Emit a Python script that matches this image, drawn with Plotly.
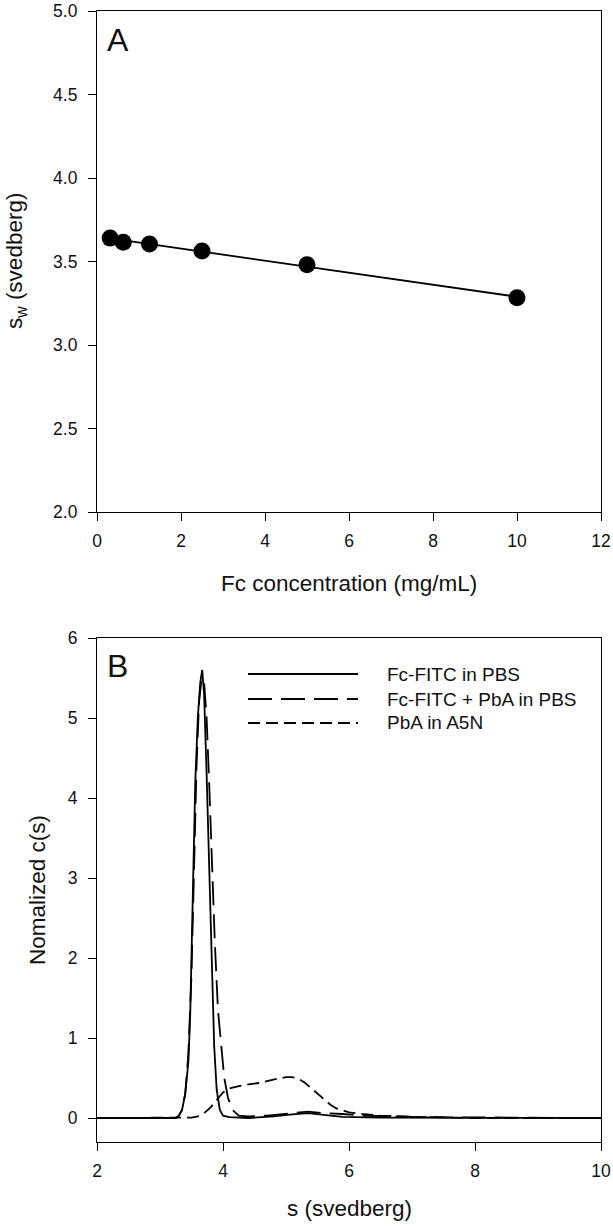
import numpy as np
import plotly.graph_objects as go

# ---- Panel A data ----
conc = [0.3125, 0.625, 1.25, 2.5, 5.0, 10.0]
sw = [3.64, 3.615, 3.605, 3.563, 3.48, 3.283]

# ---- Panel B data ----
s1 = [2.0, 3.25, 3.3, 3.35, 3.4, 3.45, 3.48, 3.52, 3.56, 3.6, 3.64, 3.67, 3.7, 3.74, 3.78, 3.82,
      3.86, 3.9, 3.95, 4.0, 4.1, 4.4, 4.8, 5.1, 5.35, 5.6, 5.9, 6.5, 10.0]
c1 = [0, 0, 0.03, 0.1, 0.3, 0.7, 1.3, 3.0, 4.2, 5.0, 5.45, 5.6, 5.3, 4.3, 3.2, 2.0,
      0.9, 0.35, 0.1, 0.03, 0.01, 0.0, 0.02, 0.045, 0.06, 0.04, 0.015, 0.005, 0]

s2 = [2.0, 3.25, 3.3, 3.35, 3.4, 3.45, 3.5, 3.54, 3.58, 3.62, 3.66, 3.7, 3.74, 3.78, 3.82, 3.87,
      3.92, 3.97, 4.02, 4.08, 4.15, 4.25, 4.4, 4.7, 5.0, 5.35, 5.6, 5.9, 6.2, 6.6, 7.2, 10.0]
c2 = [0, 0, 0.03, 0.1, 0.3, 0.8, 1.8, 3.2, 4.4, 5.2, 5.5, 5.45, 5.0, 4.2, 3.2, 2.2,
      1.35, 0.9, 0.5, 0.25, 0.1, 0.03, 0.02, 0.03, 0.05, 0.08, 0.06, 0.05, 0.03, 0.02, 0.01, 0]

s3 = [2.0, 3.4, 3.5, 3.6, 3.7, 3.8, 3.9, 4.0, 4.1, 4.2, 4.4, 4.6, 4.8, 5.0, 5.1, 5.2, 5.3, 5.4,
      5.5, 5.6, 5.7, 5.8, 5.9, 6.0, 6.2, 6.5, 7.0, 7.5, 8.0, 10.0]
c3 = [0, 0, 0.005, 0.02, 0.06, 0.13, 0.23, 0.32, 0.37, 0.39, 0.42, 0.44, 0.48, 0.51, 0.51, 0.49, 0.44, 0.37,
      0.3, 0.23, 0.17, 0.12, 0.09, 0.07, 0.05, 0.03, 0.015, 0.005, 0, 0]

legend_names = ["Fc-FITC in PBS", "Fc-FITC + PbA in PBS", "PbA in A5N"]
dashes = ["solid", "24px,9px", "12px,6px"]

FONT = "Liberation Sans, Arial, sans-serif"
W, H = 613, 1226
TICK = 17.5
TITLE = 22.5

def px_x(p):
    return p / W

def px_y(p):
    return 1 - p / H

fig = go.Figure()

# regression line through the panel A points
slope, intercept = np.polyfit(conc, sw, 1)
xfit = [min(conc), max(conc)]
fig.add_trace(go.Scatter(x=xfit, y=[slope * v + intercept for v in xfit], mode="lines",
                         line=dict(color="black", width=1.8), xaxis="x", yaxis="y", showlegend=False))
fig.add_trace(go.Scatter(x=conc, y=sw, mode="markers", marker=dict(color="black", size=17),
                         xaxis="x", yaxis="y", showlegend=False))

for s, c, d in zip([s1, s2, s3], [c1, c2, c3], dashes):
    fig.add_trace(go.Scatter(x=s, y=c, mode="lines", line=dict(color="black", width=1.8, dash=d),
                             xaxis="x2", yaxis="y2", showlegend=False))

xdom = [px_x(97), px_x(601)]
topdom = [px_y(512), px_y(11)]
botdom = [px_y(1142), px_y(638)]
axis_common = dict(showline=True, linecolor="black", linewidth=1.2, mirror=True, ticks="outside",
                   ticklen=8, tickwidth=1.2, tickcolor="black", showgrid=False, zeroline=False,
                   ticklabeloverflow="allow",
                   tickfont=dict(family=FONT, size=TICK, color="#111"), automargin=False)

fig.update_layout(
    width=W, height=H, margin=dict(l=0, r=0, t=0, b=0),
    paper_bgcolor="white", plot_bgcolor="white",
    font=dict(family=FONT, color="black"),
    xaxis=dict(domain=xdom, range=[0, 12], dtick=2, tick0=0, anchor="y", ticklabelstandoff=5, **axis_common),
    yaxis=dict(domain=topdom, range=[2, 5], dtick=0.5, tick0=2, tickformat=".1f", anchor="x",
               ticklabelstandoff=7, **axis_common),
    xaxis2=dict(domain=xdom, range=[2, 10], dtick=2, tick0=2, anchor="y2", ticklabelstandoff=5, **axis_common),
    yaxis2=dict(domain=botdom, range=[-0.3, 6], dtick=1, tick0=0, anchor="x2",
                ticklabelstandoff=7, **axis_common),
)

def label(text, x, y, size, angle=0, xanchor="center"):
    fig.add_annotation(text=text, x=px_x(x), y=px_y(y), xref="paper", yref="paper", showarrow=False,
                       xanchor=xanchor, yanchor="middle", textangle=angle,
                       font=dict(family=FONT, size=size, color="#111"))

# axis titles
label("Fc concentration (mg/mL)", 349, 583, TITLE)
label("s<sub>w</sub> (svedberg)", 16, 261, TITLE, angle=-90)
label("s (svedberg)", 349, 1208, TITLE)
label("Nomalized c(s)", 37, 890, TITLE, angle=-90)

# panel letters
label("A", 105, 40, 32, xanchor="left")
label("B", 105, 666, 32, xanchor="left")

# legend (panel B)
rows = [674, 699, 723]
for name, d, ry in zip(legend_names, dashes, rows):
    fig.add_shape(type="line", xref="paper", yref="paper", x0=px_x(248), x1=px_x(358),
                  y0=px_y(ry), y1=px_y(ry), line=dict(color="black", width=1.8, dash=d))
    label(name, 385, ry, 19, xanchor="left")

fig.write_html("out.html", config={"displayModeBar": False},
               post_script="document.body.style.margin='0';document.body.style.overflow='hidden';")
